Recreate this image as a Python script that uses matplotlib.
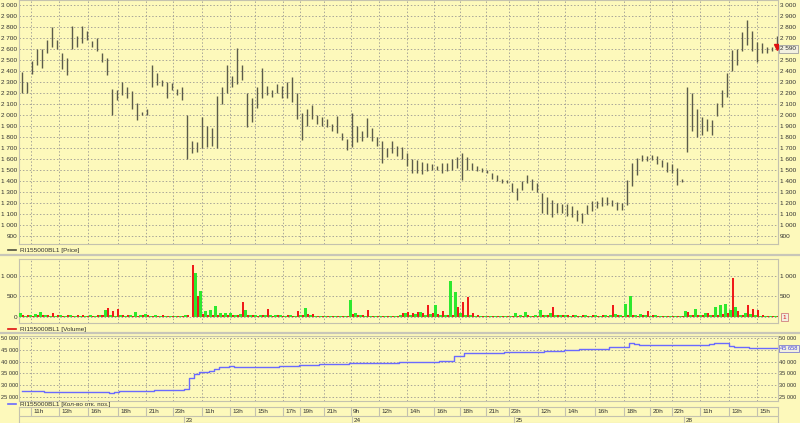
import numpy as np
import matplotlib
matplotlib.use("Agg")
import matplotlib.pyplot as plt
from matplotlib.lines import Line2D
from matplotlib.ticker import FuncFormatter
import matplotlib.transforms as mtransforms

plt.rcParams['font.family'] = ['Liberation Sans', 'DejaVu Sans']

# ---- data (one slot per ~5 px) ----
price_hi = [2390, 2300, 2490, 2600, 2600, 2680, 2800, 2680, 2560, 2520,
            2810, 2720, 2810, 2760, 2670, 2700, 2560, 2520, 2240, 2230,
            2300, 2250, 2220, 2110, 2030, 2050, 2450, 2380, 2320, 2300,
            2290, 2240, 2250, 2000, 1760, 1750, 1980, 1900, 1880, 2170,
            2250, 2455, 2350, 2610, 2450, 2200, 2150, 2250, 2430, 2260,
            2230, 2280, 2260, 2300, 2345, 2200, 2020, 2050, 2090, 2000,
            1980, 1960, 1920, 1990, 1840, 1780, 2020, 1900, 1850, 1970,
            1880, 1800, 1760, 1700, 1760, 1720, 1712, 1650, 1600, 1590,
            1570, 1560, 1550, 1540, 1560, 1560, 1600, 1620, 1655, 1620,
            1560, 1540, 1520, 1500, 1470, 1450, 1420, 1410, 1380, 1340,
            1400, 1455, 1420, 1380, 1290, 1255, 1230, 1200, 1190, 1190,
            1170, 1140, 1110, 1180, 1220, 1220, 1250, 1250, 1230, 1210,
            1200, 1410, 1560, 1610, 1640, 1630, 1640, 1630, 1590, 1570,
            1550, 1520, 1420, 2250, 2200, 2050, 1980, 1960, 1950, 2110,
            2230, 2380, 2590, 2600, 2750, 2860, 2760, 2660, 2650, 2620,
            2620, 2720]
price_lo = [2200, 2200, 2370, 2450, 2430, 2560, 2620, 2600, 2420, 2360,
            2600, 2620, 2650, 2680, 2620, 2580, 2480, 2360, 2000, 2140,
            2180, 2150, 2050, 1950, 2000, 2000, 2250, 2270, 2260, 2150,
            2230, 2180, 2140, 1600, 1650, 1660, 1700, 1710, 1720, 1700,
            2100, 2200, 2250, 2280, 2320, 1890, 1940, 2060, 2150, 2180,
            2160, 2200, 2150, 2150, 2120, 1960, 1770, 1900, 1960, 1920,
            1900, 1890, 1850, 1840, 1770, 1680, 1710, 1750, 1760, 1800,
            1760, 1720, 1560, 1620, 1650, 1630, 1600, 1540, 1470, 1470,
            1460, 1490, 1500, 1500, 1470, 1490, 1500, 1520, 1410, 1500,
            1500, 1490, 1480, 1470, 1420, 1400, 1380, 1380, 1300, 1230,
            1320, 1380, 1320, 1300, 1110, 1100, 1070, 1110, 1110, 1080,
            1070, 1040, 1020, 1100, 1130, 1150, 1170, 1180, 1170, 1140,
            1140, 1180, 1350, 1450, 1580, 1580, 1590, 1550, 1530, 1480,
            1470, 1360, 1390, 1660, 1850, 1800, 1820, 1850, 1820, 1990,
            2070, 2160, 2400, 2450, 2580, 2640, 2580, 2480, 2560, 2560,
            2580, 2600]
vol_up = [100, 30, 40, 80, 120, 60, 30, 20, 40, 30,
          40, 30, 20, 30, 40, 30, 40, 160, 50, 30,
          40, 30, 50, 110, 40, 80, 30, 40, 30, 20,
          30, 20, 30, 40, 0, 1060, 620, 150, 170, 260,
          100, 90, 100, 60, 80, 180, 50, 60, 40, 50,
          40, 60, 50, 30, 40, 30, 40, 210, 40, 30,
          20, 30, 20, 30, 20, 30, 420, 100, 40, 30,
          30, 20, 30, 20, 30, 20, 40, 100, 60, 80,
          120, 60, 80, 280, 60, 60, 880, 600, 100, 60,
          40, 30, 20, 30, 20, 30, 20, 30, 20, 100,
          40, 130, 30, 40, 180, 60, 100, 40, 60, 40,
          30, 40, 30, 40, 30, 40, 30, 40, 40, 70,
          40, 310, 510, 40, 80, 60, 30, 40, 30, 20,
          30, 20, 30, 150, 60, 200, 40, 100, 60, 250,
          300, 310, 180, 250, 60, 100, 80, 40, 30, 20,
          30, 20]
vol_dn = [40, 60, 30, 40, 50, 40, 100, 40, 30, 50,
          30, 50, 40, 30, 20, 40, 60, 210, 150, 200,
          40, 60, 30, 30, 50, 40, 30, 20, 40, 30,
          20, 30, 20, 60, 1250, 520, 80, 60, 50, 60,
          40, 50, 60, 40, 360, 50, 40, 30, 40, 200,
          30, 40, 30, 40, 30, 150, 40, 80, 70, 30,
          30, 20, 30, 20, 30, 20, 80, 60, 40, 170,
          20, 30, 20, 30, 20, 30, 100, 120, 90, 130,
          100, 290, 100, 80, 150, 60, 60, 240, 370, 475,
          90, 40, 20, 30, 20, 30, 20, 20, 30, 20,
          30, 40, 20, 30, 60, 40, 250, 60, 50, 40,
          40, 30, 40, 30, 40, 30, 40, 30, 290, 40,
          30, 60, 40, 30, 50, 150, 40, 30, 20, 30,
          20, 30, 20, 120, 60, 40, 60, 90, 40, 60,
          80, 100, 935, 150, 60, 300, 200, 180, 40, 30,
          20, 20]
open_int = [27400, 27400, 27400, 27400, 27400, 27300, 27300, 27300, 27300, 27300,
            27200, 27200, 27200, 27200, 27200, 27200, 27200, 27200, 26800, 27100,
            27400, 27500, 27500, 27600, 27600, 27700, 27700, 27800, 28000, 28000,
            28000, 28000, 28000, 28200, 33000, 34800, 35700, 35800, 36200, 37000,
            37500, 37600, 38000, 37900, 37700, 37700, 37800, 37800, 37700, 37800,
            37900, 37900, 38000, 38000, 38100, 38200, 38400, 38500, 38600, 38700,
            38800, 38900, 38900, 39000, 39000, 39000, 39200, 39300, 39300, 39300,
            39400, 39400, 39500, 39500, 39600, 39600, 39700, 39700, 39800, 39800,
            39900, 39900, 40000, 40000, 40100, 40200, 40400, 42300, 42500, 43500,
            43500, 43600, 43600, 43700, 43700, 43800, 43800, 43900, 43900, 44000,
            44000, 44100, 44100, 44200, 44200, 44300, 44300, 44500, 44700, 44800,
            45000, 45100, 45200, 45300, 45300, 45300, 45400, 45400, 46200, 46300,
            46300, 46300, 47700, 47500, 47100, 47000, 46900, 47000, 47100, 47000,
            46900, 47000, 47100, 47000, 47000, 47100, 47200, 47200, 47300, 47800,
            48000, 48000, 46500, 46300, 46200, 46000, 45700, 45700, 45700, 45650,
            45650, 45658]
last_price = 2590
last_volume = 1
last_oi = 45658

hour_pos = [1.8, 7.4, 13.2, 19.2, 24.9, 30.2, 36.0, 41.6, 46.7, 52.2, 55.7, 60.5, 65.8, 71.4,
            77.0, 82.5, 87.6, 92.9, 97.4, 103.2, 108.7, 114.6, 120.4, 125.7, 130.0, 135.7, 141.4, 147.0]
hour_lbl = ['11h', '13h', '16h', '18h', '21h', '23h', '11h', '13h', '15h', '17h', '19h', '21h', '9h', '12h',
            '14h', '16h', '18h', '21h', '23h', '12h', '14h', '16h', '18h', '20h', '22h', '11h', '13h', '15h']
day_pos = [32.5, 66.1, 98.5, 132.5]
day_lbl = ['23', '24', '25', '28']

price_ticks = list(range(900, 3001, 100))
vol_ticks = [0, 500, 1000]
oi_ticks = [25000, 30000, 35000, 40000, 45000, 50000]

BG = '#fdf9bb'
GRID = '#a9a698'
FRAME = '#c4c2ae'
FS = 4.6
W, H = 800, 423


def box(x0, y0, x1, y1):
    return [x0 / W, 1 - y1 / H, (x1 - x0) / W, (y1 - y0) / H]


def fmt(v, _=None):
    return f"{int(round(v)):,}".replace(",", " ")


fig = plt.figure(figsize=(8, 4.23), dpi=100, facecolor=BG)
x = np.arange(len(price_hi))
xlim = (-0.5, 151.3)


def style(ax, ticks, ylim, hide_right=None, fs=FS, pad=1.2):
    ax.set_facecolor(BG)
    ax.set_xlim(*xlim)
    ax.set_ylim(*ylim)
    ax.set_yticks(ticks)
    ax.yaxis.set_major_formatter(FuncFormatter(fmt))
    ax.set_xticks(hour_pos)
    ax.tick_params(axis='x', bottom=False, labelbottom=False, length=0)
    ax.tick_params(axis='y', left=False, right=False, labelleft=True, labelright=True,
                   labelsize=fs, colors='#303030', pad=pad, length=0)
    ax.grid(True, color=GRID, linestyle=(0, (1.5, 2)), linewidth=0.7)
    for s in ax.spines.values():
        s.set_color(FRAME)
        s.set_linewidth(0.8)
    if hide_right is not None:
        # the boxed "last value" label sits on top of this right-hand label
        ax.yaxis.get_major_ticks()[ticks.index(hide_right)].label2.set_visible(False)


# price
ax_p = fig.add_axes(box(19, 0, 778, 244))
style(ax_p, price_ticks, (827, 3045), hide_right=2600)
ax_p.vlines(x, price_lo, price_hi, color='#5b5b4a', linewidth=1.0, zorder=3)
ax_p.plot([x[-1]], [last_price + 30], marker='v', color='#e01010', markersize=4.5, zorder=4)
tr = mtransforms.blended_transform_factory(ax_p.transAxes, ax_p.transData)
ax_p.text(1.003, 2600, fmt(last_price), transform=tr, fontsize=FS, va='center', ha='left',
          color='#303030', zorder=6,
          bbox=dict(boxstyle='square,pad=0.25', fc='#f2f0e0', ec='#a0a0a0', lw=0.6))

# volume
ax_v = fig.add_axes(box(19, 259, 778, 323))
style(ax_v, vol_ticks, (-145, 1404), hide_right=0)
ax_v.bar(x - 0.22, vol_up, width=0.44, color='#2ee82e', zorder=3)
ax_v.bar(x + 0.22, vol_dn, width=0.44, color='#f01a1a', zorder=3)
tr = mtransforms.blended_transform_factory(ax_v.transAxes, ax_v.transData)
ax_v.text(1.006, 0, fmt(last_volume), transform=tr, fontsize=FS, va='center', ha='left',
          color='#e01010', zorder=6,
          bbox=dict(boxstyle='square,pad=0.3', fc='#f2f0e0', ec='#d08080', lw=0.6))

# open interest
ax_o = fig.add_axes(box(19, 336, 778, 401))
style(ax_o, oi_ticks, (23300, 50850), hide_right=45000, fs=4.1, pad=0.6)
ax_o.plot(x, open_int, color='#6a6aff', linewidth=1.0, zorder=3, drawstyle='steps-mid')
tr = mtransforms.blended_transform_factory(ax_o.transAxes, ax_o.transData)
ax_o.text(1.003, last_oi, fmt(last_oi), transform=tr, fontsize=4.1, va='center', ha='left',
          color='#4040e0', zorder=6,
          bbox=dict(boxstyle='square,pad=0.2', fc='#f2f0e0', ec='#8080d0', lw=0.6))

# time axis
ax_t = fig.add_axes(box(19, 407, 778, 423))
ax_t.set_facecolor(BG)
ax_t.set_xlim(*xlim)
ax_t.set_ylim(0, 1)
ax_t.set_xticks([])
ax_t.set_yticks([])
for s in ax_t.spines.values():
    s.set_color(FRAME)
    s.set_linewidth(0.8)
ax_t.axhline(0.42, color=FRAME, linewidth=0.8)
ax_t.vlines(hour_pos, 0.42, 1, color=FRAME, linewidth=0.8)
ax_t.vlines(day_pos, 0, 0.42, color=FRAME, linewidth=0.8)
for p, lbl in zip(hour_pos, hour_lbl):
    ax_t.text(p + 0.5, 0.71, lbl, fontsize=FS, va='center', ha='left', color='#303030')
for p, lbl in zip(day_pos, day_lbl):
    ax_t.text(p + 0.4, 0.17, lbl, fontsize=FS, va='center', ha='left', color='#303030')

# panel separators
for yy in (254.5, 332.5):
    fig.add_artist(Line2D([0, 1], [1 - yy / H] * 2, color='#c8c6b8', linewidth=1.6))

# legends under each panel
legends = [(250, '#505040', 'RI155000BL1 [Price]'),
           (329, '#e01010', 'RI155000BL1 [Volume]'),
           (404, '#6a6aff', 'RI155000BL1 [Кол-во отк. поз.]')]
for yy, col, txt in legends:
    fy = 1 - yy / H
    fig.add_artist(Line2D([8 / W, 16 / W], [fy, fy], color=col, linewidth=1.2))
    fig.text(20 / W, fy, txt, fontsize=FS, va='center', ha='left', color='#303030')

fig.savefig("out.png", dpi=100, facecolor=BG)
